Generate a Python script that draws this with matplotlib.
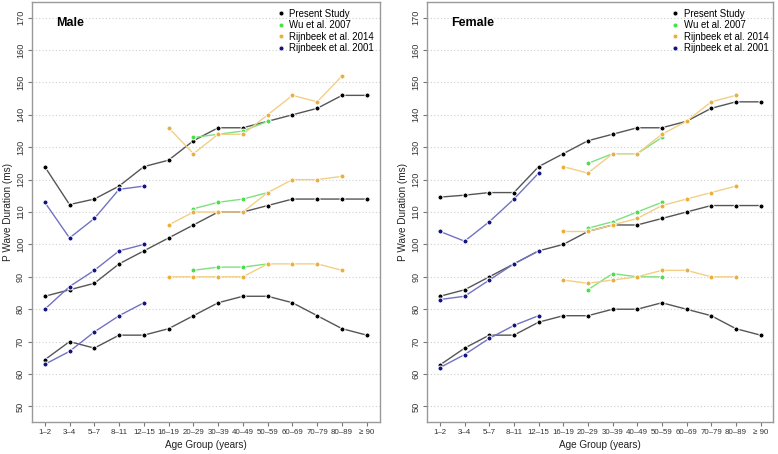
import numpy as np
import matplotlib
matplotlib.use("Agg")
import matplotlib.pyplot as plt

plt.rcParams['font.family'] = ['Liberation Sans', 'DejaVu Sans']

nan = np.nan
age_groups = ['1–2', '3–4', '5–7', '8–11', '12–15', '16–19', '20–29', '30–39',
              '40–49', '50–59', '60–69', '70–79', '80–89', '≥ 90']

# male
male_present_upper = [124, 112.3, 114, 118, 124, 126, 132, 136, 136, 138, 140, 142, 146, 146]
male_present_mean = [84, 86, 88, 94, 98, 102, 106, 110, 110, 112, 114, 114, 114, 114]
male_present_lower = [64.4, 70, 68, 72, 72, 74, 78, 82, 84, 84, 82, 78, 74, 72]
male_wu_upper = [nan] * 6 + [133, 134, 135, 138] + [nan] * 4
male_wu_mean = [nan] * 6 + [111, 113, 114, 116] + [nan] * 4
male_wu_lower = [nan] * 6 + [92, 93, 93, 94] + [nan] * 4
male_r14_upper = [nan] * 5 + [136, 128, 134, 134, 140, 146, 144, 152] + [nan]
male_r14_mean = [nan] * 5 + [106, 110, 110, 110, 116, 120, 120, 121] + [nan]
male_r14_lower = [nan] * 5 + [90, 90, 90, 90, 94, 94, 94, 92] + [nan]
male_r01_upper = [113, 102, 108, 117, 118] + [nan] * 9
male_r01_mean = [80, 87, 92, 98, 100] + [nan] * 9
male_r01_lower = [63, 67, 73, 78, 82] + [nan] * 9

# female
female_present_upper = [114.6, 115.2, 116, 116, 124, 128, 132, 134, 136, 136, 138, 142, 144, 144]
female_present_mean = [84, 86, 90, 94, 98, 100, 104, 106, 106, 108, 110, 112, 112, 112]
female_present_lower = [62.8, 68, 72, 72, 76, 78, 78, 80, 80, 82, 80, 78, 74, 72]
female_wu_upper = [nan] * 6 + [125, 128, 128, 133] + [nan] * 4
female_wu_mean = [nan] * 6 + [105, 107, 110, 113] + [nan] * 4
female_wu_lower = [nan] * 6 + [86, 91, 90, 90] + [nan] * 4
female_r14_upper = [nan] * 5 + [124, 122, 128, 128, 134, 138, 144, 146] + [nan]
female_r14_mean = [nan] * 5 + [104, 104, 106, 108, 112, 114, 116, 118] + [nan]
female_r14_lower = [nan] * 5 + [89, 88, 89, 90, 92, 92, 90, 90] + [nan]
female_r01_upper = [104, 101, 107, 114, 122] + [nan] * 9
female_r01_mean = [83, 84, 89, 94, 98] + [nan] * 9
female_r01_lower = [62, 66, 71, 75, 78] + [nan] * 9

studies = ['Present Study', 'Wu et al. 2007', 'Rijnbeek et al. 2014', 'Rijnbeek et al. 2001']
point_colors = ['#000000', '#4ddd4d', '#e8b040', '#141480']
line_colors = ['#555555', '#80e080', '#f2cf85', '#7272c4']

male = [
    [male_present_upper, male_present_mean, male_present_lower],
    [male_wu_upper, male_wu_mean, male_wu_lower],
    [male_r14_upper, male_r14_mean, male_r14_lower],
    [male_r01_upper, male_r01_mean, male_r01_lower],
]
female = [
    [female_present_upper, female_present_mean, female_present_lower],
    [female_wu_upper, female_wu_mean, female_wu_lower],
    [female_r14_upper, female_r14_mean, female_r14_lower],
    [female_r01_upper, female_r01_mean, female_r01_lower],
]

fig = plt.figure(figsize=(7.78, 4.54), dpi=100)
ax1 = fig.add_axes([0.041, 0.0705, 0.447, 0.925])
ax2 = fig.add_axes([0.549, 0.0705, 0.445, 0.925])

x = np.arange(1, len(age_groups) + 1)
for ax, data, title in [(ax1, male, 'Male'), (ax2, female, 'Female')]:
    for yv in range(50, 171, 10):
        ax.axhline(yv, color='#cfcfcf', lw=0.8, ls=(0, (1, 2)), zorder=0)
    for i, group in enumerate(data):
        for series in group:
            ax.plot(x, series, color=line_colors[i], lw=1.0, zorder=2 + i)
            ax.plot(x, series, ls='none', marker='o', ms=3.6, mfc=point_colors[i],
                    mec='white', mew=0.7, zorder=2.5 + i)
    ax.set_xlim(0.48, 14.52)
    ax.set_ylim(45.2, 174.8)
    ax.set_xticks(x)
    ax.set_xticklabels(age_groups, fontsize=5.7, color='#333333')
    ax.set_yticks(range(50, 171, 10))
    ax.set_yticklabels([str(v) for v in range(50, 171, 10)], fontsize=6.6,
                       rotation=90, va='center', color='#333333')
    ax.tick_params(length=3, width=0.8, color='#777777', pad=2)
    for s in ax.spines.values():
        s.set_color('#999999')
        s.set_linewidth(1.0)
    ax.set_xlabel('Age Group (years)', fontsize=7.2, color='#222222', labelpad=3)
    ax.set_ylabel('P Wave Duration (ms)', fontsize=7.2, color='#222222', labelpad=2)
    ax.text(0.07, 0.965, title, transform=ax.transAxes, fontsize=9, fontweight='bold',
            va='top', ha='left')
    handles = [plt.Line2D([], [], ls='none', marker='o', ms=3.5, mfc=point_colors[i],
                          mec='white', mew=0.5) for i in range(4)]
    ax.legend(handles, studies, loc='upper left', bbox_to_anchor=(0.68, 1.0),
              frameon=False, fontsize=6.9, handletextpad=0.3, labelspacing=0.15,
              handlelength=1.2, borderaxespad=0.3)

fig.savefig('out.png', dpi=100)
